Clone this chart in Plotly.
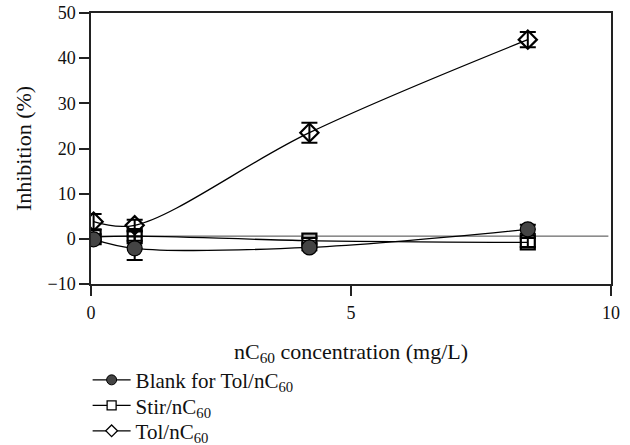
import plotly.graph_objects as go

# Data
conc = [0.05, 0.84, 4.2, 8.4]

blank_y = [-0.1, -2.1, -1.9, 2.1]
blank_err = [0.6, 2.6, 0.6, 1.0]

stir_y = [0.4, 0.6, -0.4, -0.8]
stir_err = [0.6, 1.0, 0.6, 1.0]

tol_y = [3.8, 3.0, 23.5, 44.1]
tol_err = [1.7, 1.2, 2.2, 1.7]

ref_y = 0.6

x_ticks = [0, 5, 10]
y_ticks = [-10, 0, 10, 20, 30, 40, 50]
y_tick_text = ["\u221210", "0", "10", "20", "30", "40", "50"]

names = ["Blank for Tol/nC<sub>60</sub>", "Stir/nC<sub>60</sub>", "Tol/nC<sub>60</sub>"]

FONT = "Liberation Serif"

fig = go.Figure()

fig.add_shape(type="line", xref="x", yref="y", x0=0, x1=9.95, y0=ref_y, y1=ref_y,
              line=dict(color="#444", width=1), layer="below")

def err(e):
    return dict(type="data", array=e, visible=True, color="black", thickness=2, width=8)

line_style = dict(color="black", width=1.3, shape="spline", smoothing=1)

fig.add_trace(go.Scatter(x=conc, y=stir_y, mode="lines+markers", showlegend=False,
                         line=line_style, error_y=err(stir_err),
                         marker=dict(symbol="square-open", size=14, color="black",
                                     line=dict(color="black", width=2.2))))
fig.add_trace(go.Scatter(x=conc, y=tol_y, mode="lines+markers", showlegend=False,
                         line=line_style, error_y=err(tol_err),
                         marker=dict(symbol="diamond-open", size=14, color="black",
                                     line=dict(color="black", width=2.2))))
fig.add_trace(go.Scatter(x=conc, y=blank_y, mode="lines+markers", showlegend=False,
                         line=line_style, error_y=err(blank_err),
                         marker=dict(symbol="circle", size=15, color="#444",
                                     line=dict(color="black", width=1.2))))

# legend-only entries, one legend per row so the row spacing can match
leg_markers = [
    dict(symbol="circle", size=10, color="#444", line=dict(color="black", width=1)),
    dict(symbol="square", size=9, color="white", line=dict(color="black", width=1.3)),
    dict(symbol="diamond", size=9, color="white", line=dict(color="black", width=1.3)),
]
leg_ids = ["legend", "legend2", "legend3"]
for nm, mk, lid in zip(names, leg_markers, leg_ids):
    fig.add_trace(go.Scatter(x=[None], y=[None], mode="lines+markers", name=nm,
                             line=dict(color="black", width=1.3), marker=mk, legend=lid))

axis_common = dict(showline=True, linecolor="#222", linewidth=1.5, mirror=True,
                   ticks="outside", ticklen=10, tickwidth=1.5, tickcolor="#222",
                   showgrid=False, zeroline=False, automargin=False,
                   tickfont=dict(family=FONT, size=18, color="#111"))

fig.update_xaxes(range=[0, 10], tickvals=x_ticks, ticklabelstandoff=2,
                 title=dict(text="nC<sub>60</sub> concentration (mg/L)",
                            font=dict(family=FONT, size=22, color="#111"), standoff=21),
                 **axis_common)
fig.update_yaxes(range=[-10, 50], tickvals=y_ticks, ticktext=y_tick_text,
                 title=dict(text="Inhibition (%)",
                            font=dict(family=FONT, size=22, color="#111"), standoff=10),
                 **axis_common)

def leg(y):
    return dict(x=-0.0065, y=y, xanchor="left", yanchor="middle", itemwidth=38,
                font=dict(family=FONT, size=21, color="#111"),
                bgcolor="rgba(0,0,0,0)", borderwidth=0)

fig.update_layout(
    width=630, height=445,
    margin=dict(l=91, r=19, t=13, b=161, autoexpand=False),
    plot_bgcolor="white", paper_bgcolor="white",
    font=dict(family=FONT, size=20, color="#111"),
    legend=leg(-0.355),
    legend2=leg(-0.449),
    legend3=leg(-0.543),
)

fig.write_html("out.html", config={"displayModeBar": False},
               post_script="document.body.style.margin='0';")
